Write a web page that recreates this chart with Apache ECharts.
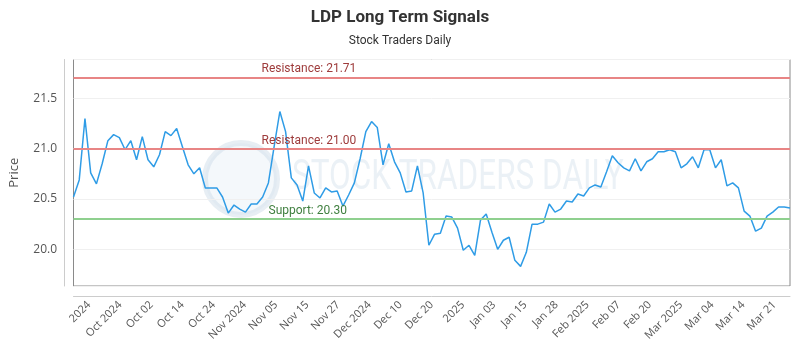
<!DOCTYPE html>
<html>
<head>
<meta charset="utf-8">
<script src="https://cdn.jsdelivr.net/npm/echarts@6/dist/echarts.min.js"></script>
<style>
  html, body { margin: 0; padding: 0; background: #fff; }
  #container { width: 800px; height: 350px; }
</style>
</head>
<body>
<div id="container"></div>
<script>
// closing prices, one per trading day
var prices = [
    20.52, 20.69, 21.30, 20.76, 20.65, 20.85, 21.08, 21.14, 21.11, 20.99,
    21.08, 20.89, 21.12, 20.89, 20.82, 20.94, 21.17, 21.13, 21.20, 21.02,
    20.84, 20.75, 20.81, 20.61, 20.61, 20.61, 20.52, 20.36, 20.44, 20.40,
    20.37, 20.45, 20.45, 20.52, 20.66, 21.02, 21.37, 21.17, 20.71, 20.64,
    20.48, 20.83, 20.56, 20.51, 20.61, 20.57, 20.58, 20.43, 20.54, 20.66,
    20.90, 21.17, 21.27, 21.21, 20.84, 21.05, 20.87, 20.76, 20.57, 20.58,
    20.83, 20.56, 20.04, 20.15, 20.16, 20.33, 20.32, 20.21, 19.99, 20.04,
    19.94, 20.29, 20.35, 20.17, 20.00, 20.09, 20.12, 19.89, 19.83, 19.97,
    20.25, 20.25, 20.27, 20.45, 20.37, 20.40, 20.48, 20.47, 20.55, 20.53,
    20.61, 20.64, 20.62, 20.77, 20.93, 20.86, 20.81, 20.78, 20.90, 20.78,
    20.87, 20.90, 20.97, 20.97, 20.99, 20.97, 20.81, 20.85, 20.92, 20.81,
    20.99, 20.99, 20.81, 20.89, 20.63, 20.66, 20.61, 20.38, 20.33, 20.18,
    20.21, 20.33, 20.37, 20.42, 20.42, 20.41
];
var tickLabels = ['2024', 'Oct 2024', 'Oct 02', 'Oct 14', 'Oct 24', 'Nov 2024', 'Nov 05',
    'Nov 15', 'Nov 27', 'Dec 2024', 'Dec 10', 'Dec 20', '2025', 'Jan 03', 'Jan 15',
    'Jan 28', 'Feb 2025', 'Feb 07', 'Feb 20', 'Mar 2025', 'Mar 04', 'Mar 14', 'Mar 21'];
var resistanceHigh = 21.71;
var resistanceLow = 21.00;
var support = 20.30;

var days = [];
for (var i = 0; i < prices.length; i++) {
    days.push(String(i + 1));
}

var myChart = echarts.init(document.getElementById('container'));

var option = {
    animation: false,
    title: {
        text: 'LDP Long Term Signals',
        subtext: 'Stock Traders Daily',
        left: 'center',
        top: 4,
        itemGap: 9,
        textStyle: { fontFamily: 'Roboto', fontWeight: 'bold', fontSize: 17, color: '#333' },
        subtextStyle: { fontFamily: 'Roboto', fontSize: 12, color: '#333' }
    },
    graphic: [
        {
            type: 'circle', z: 0, silent: true,
            shape: { cx: 241, cy: 179, r: 36 },
            style: { fill: 'rgba(228,237,245,0.4)', stroke: 'rgba(208,222,234,0.5)', lineWidth: 6 }
        },
        {
            type: 'text', z: 0, silent: true,
            x: 292, y: 157, scaleX: 0.75,
            style: {
                text: 'STOCK TRADERS DAILY',
                fontFamily: 'Roboto', fontSize: 42,
                fill: 'rgba(208,222,234,0.42)'
            }
        }
    ],
    grid: {
        left: 70, right: 10, top: 59.5, bottom: 64,
        show: true, borderColor: '#8a8a8a', borderWidth: 1
    },
    xAxis: [
        {
            type: 'category',
            data: days,
            boundaryGap: false,
            show: false
        },
        {
            type: 'category',
            data: tickLabels,
            boundaryGap: true,
            position: 'bottom',
            offset: 10,
            axisLine: { show: true, lineStyle: { color: '#cccccc' } },
            axisTick: { show: false },
            splitLine: { show: false },
            axisLabel: {
                interval: 0, rotate: 45, margin: 7,
                fontFamily: 'Open Sans', fontSize: 11, color: '#555'
            }
        }
    ],
    yAxis: {
        type: 'value',
        min: 19.635,
        max: 21.887,
        splitNumber: 5,
        offset: 9.5,
        name: 'Price',
        nameLocation: 'middle',
        nameGap: 43,
        nameTextStyle: { fontFamily: 'Open Sans', fontSize: 13, color: '#555' },
        axisLine: { show: true, lineStyle: { color: '#cccccc' } },
        axisTick: { show: false },
        axisLabel: {
            showMinLabel: false, showMaxLabel: false, margin: 7,
            fontFamily: 'Open Sans', fontSize: 12, color: '#555',
            formatter: function (v) { return v.toFixed(1); }
        },
        splitLine: { lineStyle: { color: '#f0f0f0' } }
    },
    series: [
        {
            name: 'LDP',
            type: 'line',
            xAxisIndex: 0,
            data: prices,
            showSymbol: false,
            lineStyle: { color: '#2f9ce6', width: 1.5 },
            z: 3,
            markLine: {
                silent: true,
                symbol: 'none',
                animation: false,
                data: [
                    {
                        yAxis: resistanceHigh,
                        lineStyle: { color: '#e88585', width: 2, type: 'solid' },
                        label: {
                            formatter: 'Resistance: ' + resistanceHigh.toFixed(2),
                            position: 'insideStartTop', distance: [188, 2],
                            color: '#9e3b3b', fontFamily: 'Roboto', fontSize: 12
                        }
                    },
                    {
                        yAxis: resistanceLow,
                        lineStyle: { color: '#e88585', width: 2, type: 'solid' },
                        label: {
                            formatter: 'Resistance: ' + resistanceLow.toFixed(2),
                            position: 'insideStartTop', distance: [188, 2],
                            color: '#9e3b3b', fontFamily: 'Roboto', fontSize: 12
                        }
                    },
                    {
                        yAxis: support,
                        lineStyle: { color: '#8fd08f', width: 2, type: 'solid' },
                        label: {
                            formatter: 'Support: ' + support.toFixed(2),
                            position: 'insideStartTop', distance: [195, 2],
                            color: '#3f7f3f', fontFamily: 'Roboto', fontSize: 12
                        }
                    }
                ]
            }
        }
    ]
};

myChart.setOption(option);
</script>
</body>
</html>
